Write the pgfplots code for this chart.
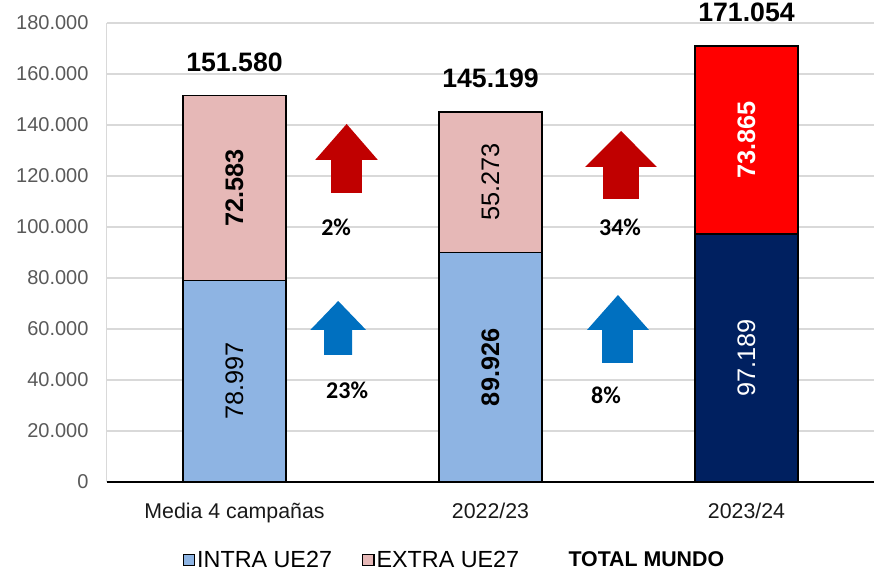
\documentclass[border=0pt]{standalone}
\usepackage{fontspec}
\setmainfont{Liberation Sans}
\newfontfamily\calibri{Carlito}
\usepackage{pgfplots}
\pgfplotsset{compat=1.18}
\definecolor{lblue}{HTML}{8EB4E3}
\definecolor{lpink}{HTML}{E6B8B7}
\definecolor{navy}{HTML}{002060}
\definecolor{bred}{HTML}{FF0000}
\definecolor{arrred}{HTML}{C00000}
\definecolor{arrblue}{HTML}{0070C0}
\definecolor{gridc}{HTML}{D9D9D9}
\definecolor{tickc}{HTML}{595959}
\pgfplotsset{
  barbox/.style={fill=#1, draw=black, line width=1.2pt},
}
\begin{document}
\begin{tikzpicture}
\begin{axis}[
  at={(0,0)}, anchor=south west,
  scale only axis, width=576pt, height=344.25pt,
  xmin=-0.5, xmax=2.5, ymin=0, ymax=180000,
  ybar stacked, bar width=77pt,
  clip=false,
  axis x line*=bottom, axis y line*=left,
  x axis line style={black, line width=1.5pt, -},
  y axis line style={gridc, line width=1.2pt, -},
  ymajorgrids, grid style={gridc, line width=1.2pt},
  major tick length=0pt,
  ytick distance=20000,
  scaled y ticks=false,
  yticklabel style={font=\fontsize{15}{18}\selectfont, text=tickc, xshift=-10pt,
    /pgf/number format/fixed, /pgf/number format/1000 sep={.}},
  xtick={0,1,2},
  xticklabels={Media 4 campañas, 2022/23, 2023/24},
  xticklabel style={font=\fontsize{16}{19}\selectfont, text=black!90, yshift=-12pt},
  /pgf/number format/fixed,
  /pgf/number format/1000 sep={.},
  /pgf/number format/assume math mode=true,
  legend style={at={(0.453,-0.17)}, anchor=center, draw=none, fill=none,
    legend columns=3, font=\fontsize{17.5}{20}\selectfont,
    nodes={inner sep=1.5pt},
    /tikz/every even column/.append style={column sep=21pt}},
  legend image code/.code={\path (0pt,-4.3pt) rectangle (8.5pt,4.3pt);},
]
\addplot+[barbox=lblue,
  legend image code/.code={\draw[fill=lblue, draw=black, line width=0.9pt] (0pt,-4.3pt) rectangle (8.5pt,4.3pt);}]
  coordinates {(0,78997) (1,89926) (2,0)};
\addlegendentry{INTRA UE27}
\addplot+[barbox=navy, forget plot] coordinates {(0,0) (1,0) (2,97189)};
\addplot+[barbox=lpink,
  legend image code/.code={\draw[fill=lpink, draw=black, line width=0.9pt] (0pt,-4.3pt) rectangle (8.5pt,4.3pt);}]
  coordinates {(0,72583) (1,55273) (2,0)};
\addlegendentry{EXTRA UE27}
\addplot+[barbox=bred, forget plot] coordinates {(0,0) (1,0) (2,73865)};
\addlegendimage{draw=none, fill=none}
\addlegendentry{\hspace{4.5pt}\fontsize{16}{19}\selectfont\textbf{TOTAL MUNDO}}
% anchor points for labels (drawn after the axis)
\coordinate (a0) at (axis cs:0,39498.5);
\coordinate (a1) at (axis cs:1,44963);
\coordinate (a2) at (axis cs:2,48594.5);
\coordinate (b0) at (axis cs:0,115288.5);
\coordinate (b1) at (axis cs:1,117562.5);
\coordinate (b2) at (axis cs:2,134121.5);
\coordinate (t0) at (axis cs:0,151580);
\coordinate (t1) at (axis cs:1,145199);
\coordinate (t2) at (axis cs:2,171054);
\coordinate (p1) at (axis cs:0.397,100000);
\coordinate (p2) at (axis cs:1.506,100000);
\coordinate (p3) at (axis cs:0.440,36079);
\coordinate (p4) at (axis cs:1.451,34118);
% arrows
\fill[arrred] (axis cs:0.377,113334) -- (axis cs:0.498,113334) -- (axis cs:0.498,126275) -- (axis cs:0.560,126275) -- (axis cs:0.438,140393) -- (axis cs:0.315,126275) -- (axis cs:0.377,126275) -- cycle;
\fill[arrred] (axis cs:1.440,110981) -- (axis cs:1.580,110981) -- (axis cs:1.580,123530) -- (axis cs:1.650,123530) -- (axis cs:1.510,137648) -- (axis cs:1.370,123530) -- (axis cs:1.440,123530) -- cycle;
\fill[arrblue] (axis cs:0.350,49804) -- (axis cs:0.459,49804) -- (axis cs:0.459,59608) -- (axis cs:0.514,59608) -- (axis cs:0.405,70981) -- (axis cs:0.296,59608) -- (axis cs:0.350,59608) -- cycle;
\fill[arrblue] (axis cs:1.436,46667) -- (axis cs:1.556,46667) -- (axis cs:1.556,59608) -- (axis cs:1.619,59608) -- (axis cs:1.498,73334) -- (axis cs:1.377,59608) -- (axis cs:1.436,59608) -- cycle;
\end{axis}
% segment labels
\node[rotate=90, anchor=center, inner sep=0pt, font=\fontsize{19}{22}\selectfont] at (a0) {78.997};
\node[rotate=90, anchor=center, inner sep=0pt, font=\bfseries\fontsize{19}{22}\selectfont] at (a1) {89.926};
\node[rotate=90, anchor=center, inner sep=0pt, text=white, font=\fontsize{19}{22}\selectfont] at (a2) {97.189};
\node[rotate=90, anchor=center, inner sep=0pt, font=\bfseries\fontsize{19}{22}\selectfont] at (b0) {72.583};
\node[rotate=90, anchor=center, inner sep=0pt, font=\fontsize{19}{22}\selectfont] at (b1) {55.273};
\node[rotate=90, anchor=center, inner sep=0pt, text=white, font=\bfseries\fontsize{19}{22}\selectfont] at (b2) {73.865};
% totals
\node[anchor=base, yshift=18pt, inner sep=0pt, font=\bfseries\fontsize{20}{24}\selectfont] at (t0) {151.580};
\node[anchor=base, yshift=18pt, inner sep=0pt, font=\bfseries\fontsize{20}{24}\selectfont] at (t1) {145.199};
\node[anchor=base, yshift=18pt, inner sep=0pt, font=\bfseries\fontsize{20}{24}\selectfont] at (t2) {171.054};
% percentages
\node[anchor=center, font=\calibri\bfseries\fontsize{18}{20}\selectfont] at (p1) {2\%};
\node[anchor=center, font=\calibri\bfseries\fontsize{18}{20}\selectfont] at (p2) {34\%};
\node[anchor=center, font=\calibri\bfseries\fontsize{18}{20}\selectfont] at (p3) {23\%};
\node[anchor=center, font=\calibri\bfseries\fontsize{18}{20}\selectfont] at (p4) {8\%};
\pgfresetboundingbox
\path[use as bounding box] (-79.9pt,-72pt) rectangle (576.4pt,361.5pt);
\end{tikzpicture}
\end{document}
